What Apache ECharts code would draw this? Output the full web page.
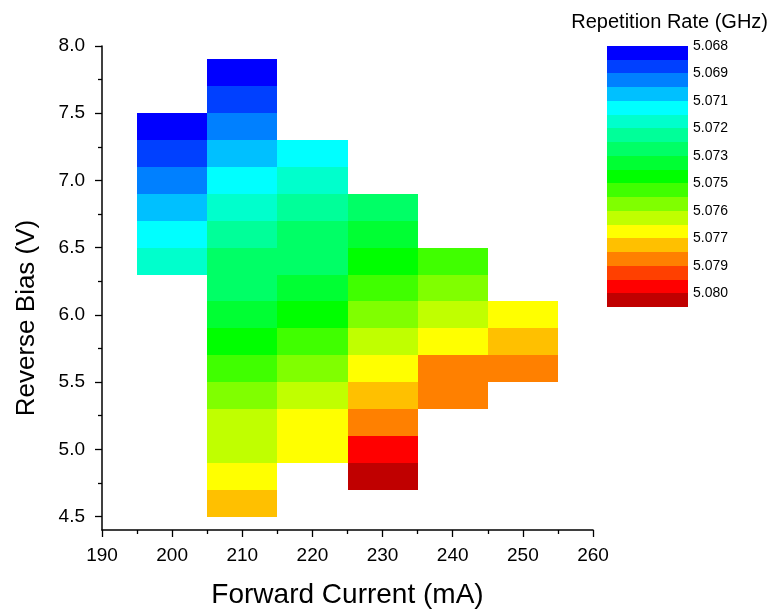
<!DOCTYPE html>
<html><head><meta charset="utf-8">
<script src="https://cdn.jsdelivr.net/npm/echarts@6/dist/echarts.min.js"></script>
<style>html,body{margin:0;padding:0;background:#fff}#chart{width:770px;height:611px}</style>
</head><body><div id="chart"></div>
<script>
// Forward current columns (mA) and reverse-bias rows (V) with repetition rate (GHz)
const bias200 = [7.4, 7.2, 7.0, 6.8, 6.6, 6.4];
const rate200 = [5.0683, 5.0690, 5.0697, 5.0703, 5.0710, 5.0717];
const bias210 = [7.8, 7.6, 7.4, 7.2, 7.0, 6.8, 6.6, 6.4, 6.2, 6.0, 5.8, 5.6, 5.4, 5.2, 5.0, 4.8, 4.6];
const rate210 = [5.0683, 5.0690, 5.0697, 5.0703, 5.0710, 5.0717, 5.0723, 5.0730, 5.0730, 5.0737, 5.0743, 5.0750, 5.0757, 5.0763, 5.0763, 5.0770, 5.0777];
const bias220 = [7.2, 7.0, 6.8, 6.6, 6.4, 6.2, 6.0, 5.8, 5.6, 5.4, 5.2, 5.0];
const rate220 = [5.0710, 5.0717, 5.0723, 5.0730, 5.0730, 5.0737, 5.0743, 5.0750, 5.0757, 5.0763, 5.0770, 5.0770];
const bias230 = [6.8, 6.6, 6.4, 6.2, 6.0, 5.8, 5.6, 5.4, 5.2, 5.0, 4.8];
const rate230 = [5.0730, 5.0737, 5.0743, 5.0750, 5.0757, 5.0763, 5.0770, 5.0777, 5.0783, 5.0797, 5.0803];
const bias240 = [6.4, 6.2, 6.0, 5.8, 5.6, 5.4];
const rate240 = [5.0750, 5.0757, 5.0763, 5.0770, 5.0783, 5.0783];
const bias250 = [6.0, 5.8, 5.6];
const rate250 = [5.0770, 5.0777, 5.0783];

const currents = [200, 210, 220, 230, 240, 250];
const biasCols = [bias200, bias210, bias220, bias230, bias240, bias250];
const rateCols = [rate200, rate210, rate220, rate230, rate240, rate250];
const cellWidth = 10;   // mA step
const cellHeight = 0.2; // V step

const xTicks = [190, 200, 210, 220, 230, 240, 250, 260];
const yTicks = [4.5, 5.0, 5.5, 6.0, 6.5, 7.0, 7.5, 8.0];
const yMinorTicks = [4.75, 5.25, 5.75, 6.25, 6.75, 7.25, 7.75];

// colour scale
const levelStart = 5.068, levelEnd = 5.080, levelSteps = 18;
const palette = ['#0000FF','#0040FF','#0080FF','#00C0FF','#00FFFF','#00FFCC','#00FF99','#00FF66','#00FF33','#00FF00','#40FF00','#80FF00','#C0FF00','#FFFF00','#FFC000','#FF8000','#FF4000','#FF0000','#C00000'];
const colorbarLabels = ['5.068','5.069','5.071','5.072','5.073','5.075','5.076','5.077','5.079','5.080'];
const levelStep = (levelEnd - levelStart) / levelSteps;
function colorFor(v) {
  let i = Math.floor((v - levelStart) / levelStep + 1e-9);
  i = Math.max(0, Math.min(palette.length - 1, i));
  return palette[i];
}

const cells = [];
currents.forEach((c, ci) => {
  biasCols[ci].forEach((b, bi) => cells.push([c, b, rateCols[ci][bi]]));
});
const bandData = palette.map((c, i) => [i]);

const FONT = 'Liberation Sans, Arial, sans-serif';
const chart = echarts.init(document.getElementById('chart'), null, {renderer: 'canvas'});
chart.setOption({
  animation: false,
  backgroundColor: '#fff',
  title: {
    text: 'Repetition Rate (GHz)', right: 2, top: 12, padding: 0,
    textStyle: {fontFamily: FONT, fontSize: 20, fontWeight: 'normal', color: '#000'}
  },
  grid: [
    {left: 102, right: 177, top: 46, bottom: 81, containLabel: false, outerBoundsMode: 'none'},
    {left: 607, width: 81, top: 46, height: 261, containLabel: false, outerBoundsMode: 'none'}
  ],
  xAxis: [{
    gridIndex: 0, type: 'value', min: 190, max: 260, interval: 10,
    name: 'Forward Current (mA)', nameLocation: 'middle', nameGap: 51,
    nameTextStyle: {fontFamily: FONT, fontSize: 28, color: '#000'},
    axisLine: {show: true, onZero: false, lineStyle: {color: '#000', width: 1.5}},
    axisTick: {show: true, length: 7, lineStyle: {color: '#000', width: 1.3}},
    minorTick: {show: true, splitNumber: 2, length: 4, lineStyle: {color: '#000', width: 1.3}},
    axisLabel: {fontFamily: FONT, fontSize: 19, color: '#000', margin: 16,
      formatter: v => xTicks.indexOf(v) >= 0 ? String(v) : ''},
    splitLine: {show: false}
  }, {
    gridIndex: 1, type: 'value', min: 0, max: 1, show: false
  }],
  yAxis: [{
    gridIndex: 0, type: 'value', min: 4.4, max: 8.0,
    name: 'Reverse Bias (V)', nameLocation: 'middle', nameGap: 62,
    nameTextStyle: {fontFamily: FONT, fontSize: 26, color: '#000', padding: [0, 60, 0, 0]},
    axisLine: {show: true, onZero: false, lineStyle: {color: '#000', width: 1.5}},
    axisTick: {show: true, length: 7, customValues: yTicks, lineStyle: {color: '#000', width: 1.3}},
    axisLabel: {fontFamily: FONT, fontSize: 19, color: '#000', margin: 17, customValues: yTicks,
      formatter: v => v.toFixed(1)},
    splitLine: {show: false}
  }, {
    gridIndex: 0, type: 'value', min: 4.4, max: 8.0, position: 'left',
    axisLine: {show: false},
    axisTick: {show: true, length: 4, customValues: yMinorTicks, lineStyle: {color: '#000', width: 1.3}},
    axisLabel: {show: false},
    splitLine: {show: false}
  }, {
    gridIndex: 1, type: 'value', min: 0, max: 19, interval: 2, inverse: true, position: 'right',
    axisLine: {show: false}, axisTick: {show: false}, splitLine: {show: false},
    axisLabel: {fontFamily: FONT, fontSize: 14, color: '#000', margin: 5,
      formatter: v => colorbarLabels[v / 2] || ''}
  }],
  series: [{
    type: 'custom', xAxisIndex: 0, yAxisIndex: 0,
    data: cells,
    renderItem: (params, api) => {
      const x = api.value(0), y = api.value(1), v = api.value(2);
      const p1 = api.coord([x - cellWidth / 2, y + cellHeight / 2]);
      const p2 = api.coord([x + cellWidth / 2, y - cellHeight / 2]);
      const x1 = Math.round(p1[0]), y1 = Math.round(p1[1]);
      const x2 = Math.round(p2[0]), y2 = Math.round(p2[1]);
      return {type: 'rect', shape: {x: x1, y: y1, width: x2 - x1, height: y2 - y1},
        style: {fill: colorFor(v)}};
    }
  }, {
    type: 'custom', xAxisIndex: 1, yAxisIndex: 2,
    data: bandData,
    renderItem: (params, api) => {
      const i = api.value(0);
      const p1 = api.coord([0, i]);
      const p2 = api.coord([1, i + 1]);
      const x1 = Math.round(p1[0]), y1 = Math.round(p1[1]);
      const x2 = Math.round(p2[0]), y2 = Math.round(p2[1]);
      return {type: 'rect', shape: {x: x1, y: y1, width: x2 - x1, height: y2 - y1},
        style: {fill: palette[i]}};
    }
  }]
});
</script></body></html>
